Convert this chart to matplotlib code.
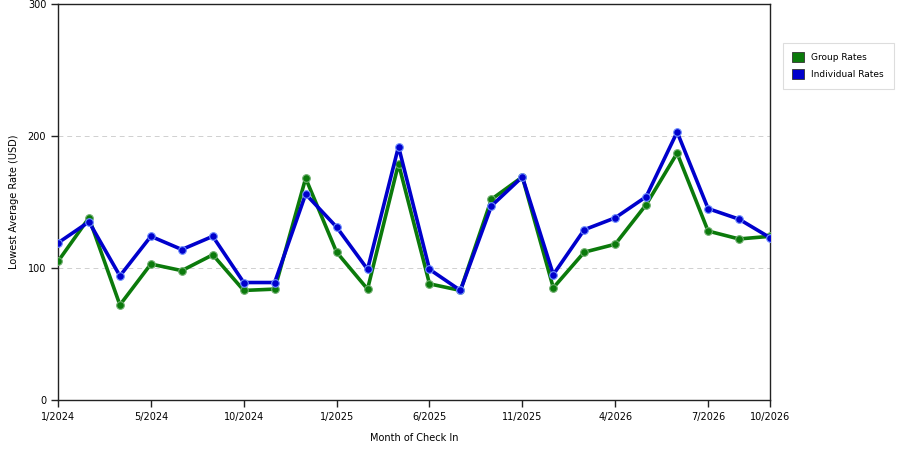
import matplotlib
matplotlib.use('Agg')
import matplotlib.pyplot as plt
import matplotlib.patches as pch

# monthly check-in slots, 24 points
tick_labels = ['1/2024', '5/2024', '10/2024', '1/2025', '6/2025',
               '11/2025', '4/2026', '7/2026', '10/2026']
tick_pos = [0, 3, 6, 9, 12, 15, 18, 21, 23]

group_rates = [105, 138, 72, 103, 98, 110, 83, 84, 168, 112, 84, 179,
               88, 83, 152, 169, 85, 112, 118, 148, 187, 128, 122, 124]
individual_rates = [119, 135, 94, 124, 114, 124, 89, 89, 156, 131, 99, 192,
                    99, 83, 147, 169, 95, 129, 138, 154, 203, 145, 137, 123]

green = '#0b7a0b'
blue = '#0000cc'

fig = plt.figure(figsize=(9, 4.5), dpi=100)
ax = fig.add_axes([58/900, 1 - 400/450, 712/900, 396/450])

x = range(len(group_rates))
ax.plot(x, group_rates, color=green, lw=2.6, marker='o', ms=5.5,
        mfc=green, mec='#6fae6f', mew=0.8, zorder=3)
ax.plot(x, individual_rates, color=blue, lw=2.6, marker='o', ms=5.5,
        mfc=blue, mec='#6f8fff', mew=0.8, zorder=4)

ax.set_xlim(0, len(group_rates) - 1)
ax.set_ylim(0, 300)
ax.set_yticks([0, 100, 200, 300])
ax.set_xticks(tick_pos)
ax.set_xticklabels(tick_labels)
ax.tick_params(labelsize=7, direction='out', length=5, width=1, color='#222222')
for t in [100, 200]:
    ax.axhline(t, color='#d0d0d0', lw=0.7, ls=(0, (5, 4)), zorder=1)
for s in ax.spines.values():
    s.set_color('#222222')
    s.set_linewidth(1)

ax.set_xlabel('Month of Check In', fontsize=7, labelpad=8)
ax.set_ylabel('Lowest Average Rate (USD)', fontsize=7, labelpad=6)

handles = [pch.Rectangle((0, 0), 1, 1, facecolor=green, edgecolor='#333333', lw=0.6),
           pch.Rectangle((0, 0), 1, 1, facecolor=blue, edgecolor='#333333', lw=0.6)]
leg = fig.legend(handles, ['Group Rates', 'Individual Rates'], fontsize=6.5,
                 loc='upper left', bbox_to_anchor=(778/900, 1 - 38/450),
                 fancybox=False, framealpha=1, edgecolor='#dddddd',
                 handlelength=1.3, handleheight=1.3, borderpad=1.1,
                 labelspacing=0.75, handletextpad=0.8)
leg.get_frame().set_linewidth(0.8)

fig.savefig('out.png', dpi=100)
